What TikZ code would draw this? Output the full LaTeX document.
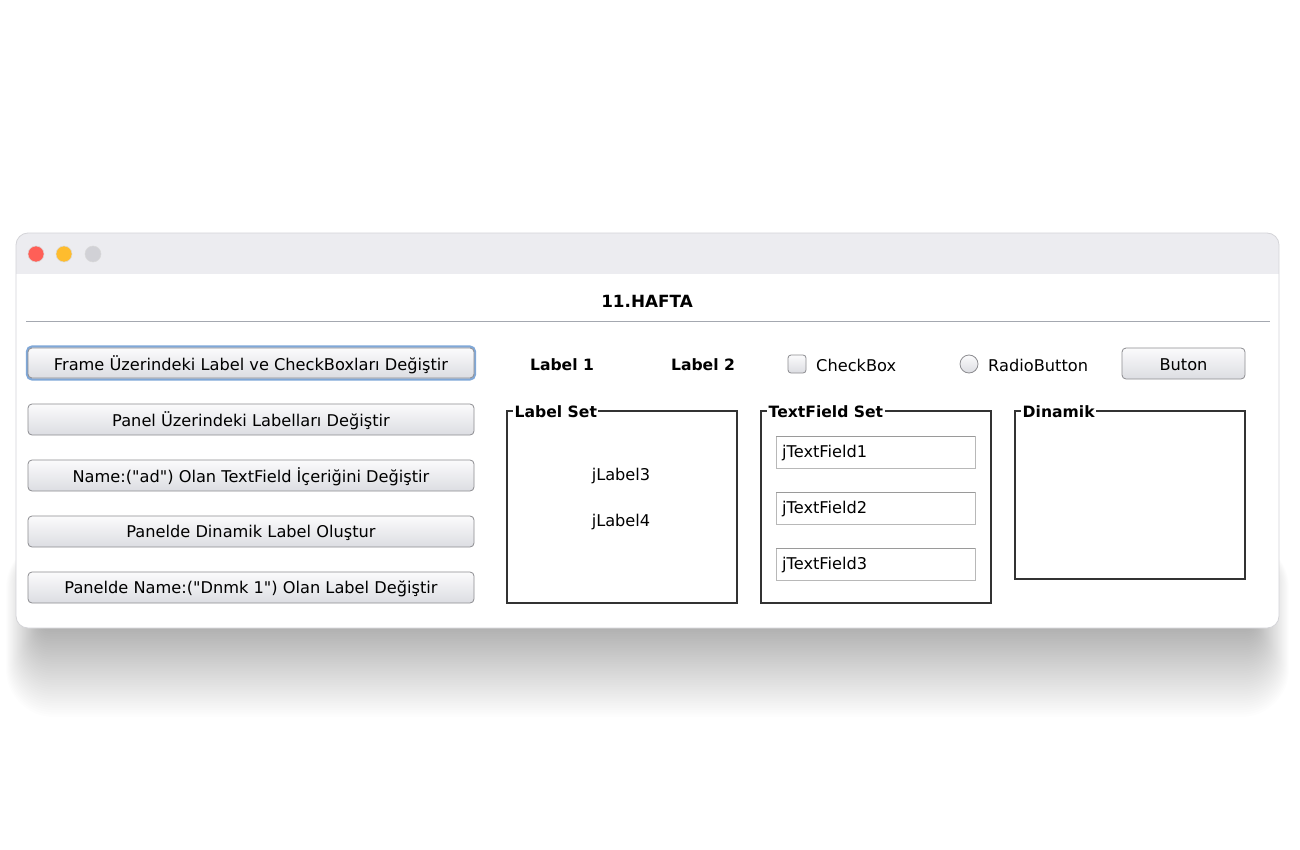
\documentclass[tikz,border=0pt]{standalone}
\usepackage{fontspec}
\newfontfamily\uifam{DejaVu Sans}
\definecolor{barbg}{HTML}{ECECF0}
\definecolor{winedge}{HTML}{D4D4D8}
\definecolor{sepline}{HTML}{A4A8B0}
\definecolor{btnborder}{HTML}{8C8C90}
\definecolor{btntop}{HTML}{FBFBFC}
\definecolor{btnbot}{HTML}{DCDDE2}
\definecolor{focusblue}{HTML}{80A8D8}
\definecolor{tlred}{HTML}{FF5F57}
\definecolor{tlyellow}{HTML}{FEBC2E}
\definecolor{tlgray}{HTML}{D1D1D6}
\definecolor{panelline}{HTML}{333333}
\definecolor{fieldline}{HTML}{B8B8B8}
\definecolor{fieldtop}{HTML}{9A9A9A}
\begin{document}
\begin{tikzpicture}[x=1pt,y=-1pt,
  uifont/.style={font=\uifam\fontsize{16.2}{19}\selectfont},
  boldfont/.style={font=\uifam\fontsize{15.6}{19}\selectfont\bfseries},
  btn/.style={draw=btnborder,rounded corners=4pt,top color=btntop,bottom color=btnbot,line width=0.8pt},
  panelbox/.style={draw=panelline,line width=1.1pt},
  paneltitle/.style={boldfont,fill=white,inner xsep=1.5pt,inner ysep=0pt,anchor=west,yshift=-1pt},
  fieldbox/.style={draw=fieldline,fill=white,line width=0.9pt},
  txt/.style={uifont,inner sep=0pt,yshift=-1.5pt}]
\useasboundingbox (0,0) rectangle (1300,850);
\fill[white] (0,0) rectangle (1300,850);
% shadow
\foreach \i in {1,...,40}{
  \fill[black,opacity=0.007,rounded corners=\i pt+8pt]
    (42-\i*0.9,560-\i*0.5) rectangle (1253+\i*0.9,625+\i*2.3);
}
% window
\fill[white,rounded corners=12pt] (16,233) rectangle (1279,628);
\begin{scope}
  \clip[rounded corners=12pt] (16,233) rectangle (1279,628);
  \fill[barbg] (16,233) rectangle (1279,274);
\end{scope}
\draw[winedge,line width=0.8pt,rounded corners=12pt] (16,233) rectangle (1279,628);
% traffic lights
\fill[tlred] (36,254) circle (8);
\fill[tlyellow] (64,254) circle (8);
\fill[tlgray] (93,254) circle (8);
\draw[black!15,line width=0.5pt] (36,254) circle (8) (64,254) circle (8) (93,254) circle (8);
% title
\node[font=\uifam\fontsize{16.8}{19}\selectfont\bfseries,inner sep=0pt,yshift=-1pt] (title) at (647,300) {11.HAFTA};
\draw[sepline,line width=1pt] (26,321) -- (1270,321);
% left buttons
\draw[focusblue,line width=2.2pt,rounded corners=5pt] (27,346.5) rectangle (475,379.5);
\draw[btn] (28,348) rectangle (474,378) node[txt,midway] (b1) {Frame Üzerindeki Label ve CheckBoxları Değiştir};
\draw[btn] (28,404) rectangle (474,435) node[txt,midway] (b2) {Panel Üzerindeki Labelları Değiştir};
\draw[btn] (28,460) rectangle (474,491) node[txt,midway] (b3) {Name:("ad") Olan TextField İçeriğini Değiştir};
\draw[btn] (28,516) rectangle (474,547) node[txt,midway] (b4) {Panelde Dinamik Label Oluştur};
\draw[btn] (28,572) rectangle (474,603) node[txt,midway] (b5) {Panelde Name:("Dnmk 1") Olan Label Değiştir};
% top row
\node[boldfont,inner sep=0pt,yshift=-1pt] (lab1) at (562,364) {Label 1};
\node[boldfont,inner sep=0pt,yshift=-1pt] (lab2) at (703,364) {Label 2};
\draw[btnborder,rounded corners=3pt,top color=btntop,bottom color=btnbot,line width=0.8pt] (788,355) rectangle (806,373);
\node[txt,anchor=west] (chk) at (816,364) {CheckBox};
\draw[btnborder,top color=btntop,bottom color=btnbot,line width=0.8pt] (969,364) circle (9);
\node[txt,anchor=west] (rad) at (988,364) {RadioButton};
\draw[btn] (1122,348) rectangle (1245,379) node[txt,midway] (buton) {Buton};
% Label Set panel
\draw[panelbox] (507,411) rectangle (737,603);
\node[paneltitle] (ls) at (513,411) {Label Set};
\node[txt] (jl3) at (621,475) {jLabel3};
\node[txt] (jl4) at (621,521) {jLabel4};
% TextField Set panel
\draw[panelbox] (761,411) rectangle (991,603);
\node[paneltitle] (ts) at (767,411) {TextField Set};
\draw[fieldbox] (776,436) rectangle (975,468);
\draw[fieldtop,line width=0.9pt] (776,436.5) -- (975,436.5);
\node[txt,anchor=west] (tf1) at (782,452) {jTextField1};
\draw[fieldbox] (776,492) rectangle (975,524);
\draw[fieldtop,line width=0.9pt] (776,492.5) -- (975,492.5);
\node[txt,anchor=west] (tf2) at (782,508) {jTextField2};
\draw[fieldbox] (776,548) rectangle (975,580);
\draw[fieldtop,line width=0.9pt] (776,548.5) -- (975,548.5);
\node[txt,anchor=west] (tf3) at (782,564) {jTextField3};
% Dinamik panel
\draw[panelbox] (1015,411) rectangle (1245,579);
\node[paneltitle] (dn) at (1021,411) {Dinamik};
\end{tikzpicture}
\end{document}
